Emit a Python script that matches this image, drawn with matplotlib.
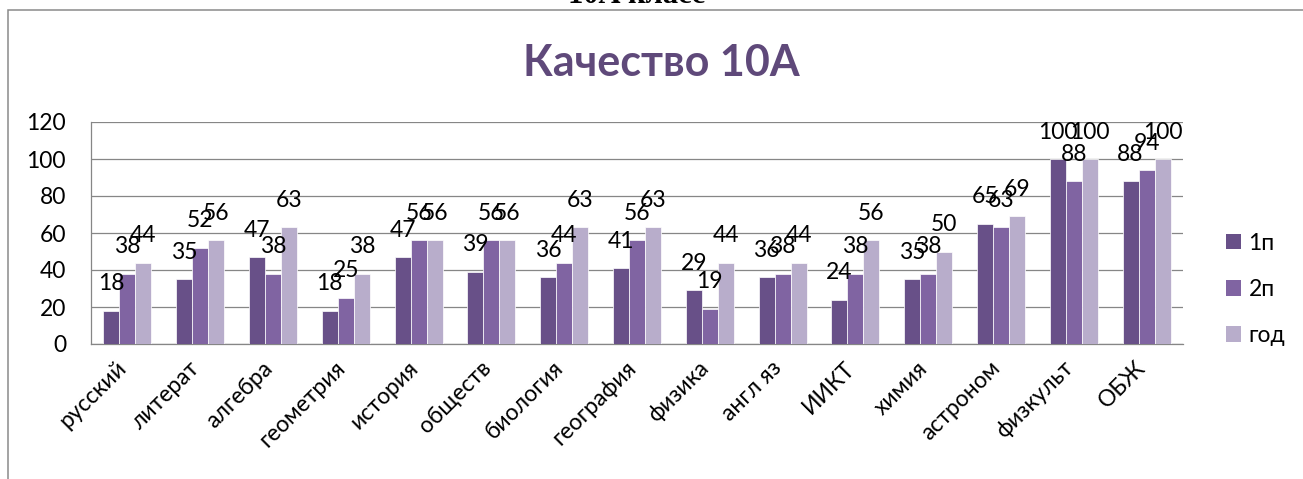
import matplotlib.pyplot as plt
import matplotlib.transforms as mtransforms
from matplotlib.patches import Rectangle, Patch
import numpy as np

subjects = ['русский', 'литерат', 'алгебра', 'геометрия', 'история', 'обществ',
            'биология', 'география', 'физика', 'англ яз', 'ИИКТ', 'химия',
            'астроном', 'физкульт', 'ОБЖ']
term1 = [18, 35, 47, 18, 47, 39, 36, 41, 29, 36, 24, 35, 65, 100, 88]
term2 = [38, 52, 38, 25, 56, 56, 44, 56, 19, 38, 38, 38, 63, 88, 94]
year = [44, 56, 63, 38, 56, 56, 63, 63, 44, 44, 56, 50, 69, 100, 100]
series_names = ['1п', '2п', 'год']
colors = ['#685088', '#8064A2', '#B8ADCB']

FONT = ['Lato', 'DejaVu Sans']
plt.rcParams['font.family'] = FONT

W, H = 1303, 479
fig = plt.figure(figsize=(W / 100, H / 100), dpi=100)
ax = fig.add_axes([91 / W, 1 - 344 / H, (1183 - 91) / W, (344 - 122) / H])

x = np.arange(len(subjects))
bw = 0.22
for k, vals in enumerate([term1, term2, year]):
    pos = x + (k - 1) * bw
    ax.bar(pos, vals, width=bw, color=colors[k], edgecolor='white',
           linewidth=0.5, label=series_names[k], zorder=3)
    # value labels sit a fixed distance above each bar
    for xp, v in zip(pos, vals):
        ax.annotate(str(v), (xp, v), xytext=(0, 19.4), textcoords='offset points',
                    ha='center', va='center', fontsize=16.5, color='black',
                    zorder=5, annotation_clip=False)

ax.set_xlim(-0.5, len(subjects) - 0.5)
ax.set_ylim(0, 120)
ax.set_yticks(range(0, 121, 20))
ax.yaxis.grid(True, color='#868686', linewidth=0.9, zorder=0)
ax.set_axisbelow(True)
for s in ['top', 'right']:
    ax.spines[s].set_visible(False)
for s in ['left', 'bottom']:
    ax.spines[s].set_color('#868686')
    ax.spines[s].set_linewidth(0.9)
ax.tick_params(axis='y', length=0, pad=18, labelsize=16.5)
ax.tick_params(axis='x', length=0, pad=15, labelsize=16.5)
ax.set_xticks(x)
ax.set_xticklabels(subjects, rotation=45, ha='right', va='center',
                   rotation_mode='anchor')
shift = mtransforms.ScaledTranslation(-4 / 100, 0, fig.dpi_scale_trans)
for lab in ax.get_xticklabels():
    lab.set_transform(lab.get_transform() + shift)

handles = [Patch(facecolor=c, edgecolor='none') for c in colors]
fig.legend(handles, series_names, loc='center left',
           bbox_to_anchor=(1226 / W, 1 - 289.5 / H), frameon=False,
           fontsize=16.5, handlelength=0.66, handleheight=0.66,
           handletextpad=0.32, labelspacing=1.1, borderpad=0, borderaxespad=0)

fig.text(661 / W, 1 - 76 / H, 'Качество 10А', ha='center', va='baseline',
         fontsize=31, fontweight='bold', color='#5F497A')
# heading of the page above the chart, cut off at the top as in the source
fig.text(637 / W, 1 - 3 / H, '10А класс', ha='center', va='baseline',
         fontsize=22, fontweight='bold', family=['Liberation Serif', 'DejaVu Serif'])

fig.add_artist(Rectangle((8 / W, -0.2), 1.2, 1.2 - 9.5 / H, transform=fig.transFigure,
                         fill=False, edgecolor='#8a8a8a', linewidth=1.1))

fig.savefig('out.png', dpi=100)
